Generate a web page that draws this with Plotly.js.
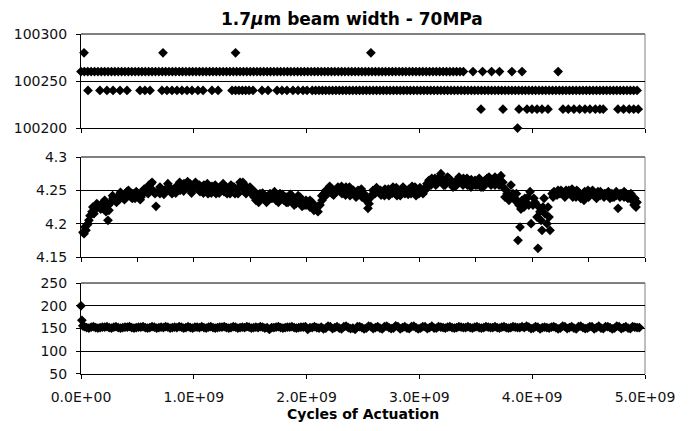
<!DOCTYPE html>
<html><head><meta charset="utf-8">
<script src="https://cdn.plot.ly/plotly-3.0.1.min.js"></script>
<style>html,body{margin:0;padding:0;background:#fff}</style>
</head><body><div id="chart" style="width:694px;height:431px"></div>
<script>
// x values are in units of 1e9 cycles
const CYCLE_UNIT = 1e9;

// Top panel: discrete readings at fixed levels
const levels = [100280, 100260, 100240, 100220, 100200];
const x100280 = [0.027, 0.727, 1.37, 2.57];
const x100260 = [0,0.03,0.06,0.09,0.12,0.15,0.18,0.21,0.24,0.27,0.3,0.33,0.36,0.39,0.42,0.45,0.48,0.51,0.54,0.57,0.6,0.63,0.66,0.69,0.72,0.75,0.78,0.81,0.84,0.87,0.9,0.93,0.96,0.99,1.02,1.05,1.08,1.11,1.14,1.17,1.2,1.23,1.26,1.29,1.32,1.35,1.38,1.41,1.44,1.47,1.5,1.53,1.56,1.59,1.62,1.65,1.68,1.71,1.74,1.77,1.8,1.83,1.86,1.89,1.92,1.95,1.98,2.01,2.04,2.07,2.1,2.13,2.16,2.19,2.22,2.25,2.28,2.31,2.34,2.37,2.4,2.43,2.46,2.49,2.52,2.55,2.58,2.61,2.64,2.67,2.7,2.73,2.76,2.79,2.82,2.85,2.88,2.91,2.94,2.97,3,3.03,3.06,3.09,3.12,3.15,3.18,3.21,3.24,3.27,3.3,3.33,3.36,3.39,3.475,3.56,3.64,3.71,3.82,3.91,4.23];
const x100240 = [0.062,0.168,0.23,0.284,0.346,0.408,0.523,0.567,0.612,0.718,0.762,0.807,0.851,0.895,0.94,0.984,1.037,1.082,1.161,1.215,1.339,1.37,1.40,1.43,1.46,1.49,1.525,1.605,1.658,1.738,1.782,1.826,1.879,1.924,1.968,2.004,2.05,2.08,2.11,2.14,2.17,2.2,2.23,2.26,2.29,2.32,2.35,2.38,2.41,2.44,2.47,2.5,2.53,2.56,2.59,2.62,2.65,2.68,2.71,2.74,2.77,2.8,2.83,2.86,2.89,2.92,2.95,2.98,3.01,3.04,3.07,3.1,3.13,3.16,3.19,3.22,3.25,3.28,3.31,3.34,3.37,3.4,3.43,3.46,3.49,3.52,3.55,3.58,3.61,3.64,3.67,3.7,3.73,3.76,3.79,3.82,3.85,3.88,3.91,3.94,3.97,4,4.03,4.06,4.09,4.12,4.15,4.18,4.21,4.24,4.27,4.3,4.33,4.36,4.39,4.42,4.45,4.48,4.51,4.54,4.57,4.6,4.63,4.66,4.69,4.72,4.75,4.78,4.81,4.84,4.87,4.9,4.93];
const x100220 = [3.546,3.741,3.883,3.954,3.998,4.043,4.087,4.14,4.273,4.32,4.37,4.42,4.468,4.512,4.56,4.6,4.63,4.76,4.81,4.86,4.9,4.94];
const x100200 = [3.87];
const levelX = [x100280, x100260, x100240, x100220, x100200];

// Middle panel: [cycles (1e9), value]
const midPoints = [[0.018,4.187],[0.027,4.185],[0.035,4.195],[0.044,4.19],[0.053,4.198],[0.062,4.2],[0.080,4.212],[0.098,4.218],[0.115,4.215],[0.133,4.222],[0.151,4.228],[0.168,4.225],[0.186,4.23],[0.204,4.228],[0.222,4.218],[0.239,4.205],[0.248,4.22],[0.266,4.232],[0.284,4.238],[0.301,4.235],[0.319,4.24],[0.337,4.236],[0.355,4.242],[0.372,4.24],[0.390,4.245],[0.408,4.248],[0.426,4.243],[0.443,4.24],[0.461,4.245],[0.479,4.238],[0.496,4.242],[0.514,4.245],[0.532,4.24],[0.550,4.245],[0.567,4.25],[0.585,4.252],[0.603,4.258],[0.621,4.26],[0.638,4.25],[0.656,4.245],[0.665,4.226],[0.683,4.248],[0.700,4.245],[0.718,4.25],[0.736,4.248],[0.754,4.252],[0.771,4.255],[0.789,4.25],[0.807,4.245],[0.824,4.25],[0.842,4.255],[0.860,4.258],[0.878,4.25],[0.895,4.255],[0.913,4.26],[0.931,4.258],[0.949,4.255],[0.966,4.26],[0.984,4.25],[1.002,4.255],[1.020,4.258],[1.037,4.252],[1.055,4.248],[1.073,4.255],[1.090,4.258],[1.108,4.25],[1.126,4.245],[1.144,4.252],[1.161,4.256],[1.179,4.25],[1.197,4.245],[1.215,4.25],[1.232,4.255],[1.250,4.252],[1.268,4.248],[1.285,4.255],[1.303,4.25],[1.321,4.245],[1.339,4.25],[1.356,4.255],[1.374,4.25],[1.392,4.245],[1.410,4.262],[1.427,4.255],[1.445,4.25],[1.463,4.245],[1.480,4.25],[1.498,4.255],[1.516,4.248],[1.534,4.24],[1.551,4.235],[1.569,4.24],[1.587,4.245],[1.605,4.238],[1.622,4.242],[1.640,4.235],[1.658,4.24],[1.676,4.245],[1.693,4.238],[1.711,4.242],[1.729,4.235],[1.746,4.24],[1.764,4.245],[1.782,4.238],[1.800,4.235],[1.817,4.24],[1.835,4.232],[1.853,4.238],[1.871,4.242],[1.888,4.235],[1.906,4.23],[1.924,4.236],[1.941,4.24],[1.959,4.232],[1.977,4.228],[1.995,4.235],[2.012,4.23],[2.030,4.225],[2.048,4.232],[2.066,4.228],[2.083,4.222],[2.101,4.218],[2.119,4.228],[2.137,4.235],[2.154,4.245],[2.172,4.25],[2.190,4.248],[2.207,4.252],[2.225,4.245],[2.243,4.25],[2.261,4.248],[2.278,4.255],[2.296,4.25],[2.314,4.245],[2.332,4.25],[2.349,4.255],[2.367,4.248],[2.385,4.242],[2.402,4.25],[2.420,4.245],[2.438,4.24],[2.456,4.25],[2.473,4.245],[2.491,4.24],[2.509,4.245],[2.527,4.235],[2.544,4.223],[2.553,4.23],[2.571,4.24],[2.589,4.25],[2.606,4.245],[2.624,4.248],[2.642,4.25],[2.660,4.243],[2.677,4.248],[2.695,4.252],[2.713,4.245],[2.730,4.242],[2.748,4.25],[2.766,4.255],[2.784,4.248],[2.801,4.242],[2.819,4.245],[2.837,4.25],[2.855,4.255],[2.872,4.245],[2.890,4.248],[2.908,4.252],[2.926,4.245],[2.943,4.25],[2.961,4.255],[2.979,4.248],[2.996,4.245],[3.014,4.25],[3.032,4.245],[3.050,4.25],[3.067,4.26],[3.085,4.265],[3.103,4.258],[3.121,4.262],[3.138,4.268],[3.156,4.26],[3.174,4.265],[3.191,4.275],[3.209,4.265],[3.227,4.258],[3.245,4.262],[3.262,4.268],[3.280,4.26],[3.298,4.255],[3.316,4.262],[3.333,4.265],[3.351,4.27],[3.369,4.262],[3.387,4.258],[3.404,4.265],[3.422,4.268],[3.440,4.26],[3.457,4.255],[3.475,4.26],[3.493,4.265],[3.511,4.258],[3.528,4.262],[3.546,4.255],[3.564,4.26],[3.582,4.265],[3.599,4.262],[3.617,4.27],[3.635,4.258],[3.652,4.265],[3.670,4.27],[3.688,4.262],[3.706,4.258],[3.723,4.272],[3.741,4.255],[3.759,4.24],[3.777,4.245],[3.794,4.235],[3.812,4.258],[3.830,4.245],[3.848,4.238],[3.865,4.232],[3.874,4.175],[3.883,4.228],[3.892,4.195],[3.910,4.235],[3.927,4.225],[3.945,4.232],[3.963,4.24],[3.981,4.248],[3.990,4.2],[4.007,4.228],[4.025,4.232],[4.043,4.21],[4.051,4.163],[4.069,4.218],[4.078,4.205],[4.087,4.19],[4.105,4.238],[4.113,4.215],[4.131,4.2],[4.149,4.21],[4.158,4.19],[4.176,4.245],[4.193,4.248],[4.211,4.245],[4.229,4.25],[4.246,4.245],[4.264,4.248],[4.282,4.242],[4.300,4.25],[4.317,4.245],[4.335,4.248],[4.353,4.252],[4.371,4.245],[4.388,4.24],[4.406,4.248],[4.424,4.245],[4.441,4.24],[4.459,4.235],[4.477,4.245],[4.495,4.25],[4.512,4.245],[4.530,4.248],[4.548,4.242],[4.566,4.245],[4.583,4.248],[4.601,4.242],[4.619,4.245],[4.637,4.24],[4.654,4.245],[4.672,4.242],[4.690,4.238],[4.707,4.245],[4.725,4.24],[4.743,4.242],[4.761,4.223],[4.778,4.24],[4.796,4.245],[4.814,4.24],[4.832,4.245],[4.849,4.238],[4.867,4.242],[4.885,4.235],[4.903,4.228],[4.920,4.225],[4.929,4.232]];
// Middle panel, additional readings that widen the band
const midPointsB = [[0.07,4.205],[0.105,4.225],[0.14,4.23],[0.175,4.222],[0.21,4.235],[0.245,4.228],[0.28,4.242],[0.315,4.232],[0.35,4.247],[0.385,4.236],[0.42,4.25],[0.455,4.238],[0.49,4.248],[0.525,4.236],[0.56,4.252],[0.595,4.245],[0.63,4.262],[0.70,4.255],[0.735,4.244],[0.77,4.26],[0.805,4.252],[0.84,4.246],[0.875,4.262],[0.91,4.249],[0.945,4.263],[0.98,4.246],[1.015,4.262],[1.05,4.258],[1.085,4.246],[1.12,4.26],[1.155,4.246],[1.19,4.258],[1.225,4.246],[1.26,4.26],[1.295,4.245],[1.33,4.258],[1.365,4.245],[1.40,4.255],[1.435,4.262],[1.47,4.255],[1.505,4.246],[1.54,4.248],[1.575,4.232],[1.61,4.246],[1.645,4.232],[1.68,4.238],[1.715,4.248],[1.75,4.232],[1.785,4.244],[1.82,4.232],[1.855,4.244],[1.89,4.228],[1.925,4.242],[1.96,4.226],[1.995,4.228],[2.03,4.235],[2.065,4.22],[2.10,4.226],[2.135,4.242],[2.17,4.242],[2.205,4.256],[2.24,4.243],[2.275,4.25],[2.31,4.256],[2.345,4.243],[2.38,4.255],[2.415,4.25],[2.45,4.242],[2.485,4.252],[2.52,4.24],[2.585,4.244],[2.62,4.254],[2.655,4.25],[2.69,4.242],[2.725,4.252],[2.76,4.246],[2.795,4.254],[2.83,4.242],[2.865,4.25],[2.90,4.244],[2.935,4.256],[2.97,4.242],[3.005,4.254],[3.04,4.252],[3.075,4.255],[3.11,4.268],[3.145,4.258],[3.18,4.27],[3.215,4.258],[3.25,4.27],[3.285,4.264],[3.32,4.256],[3.355,4.262],[3.39,4.268],[3.425,4.258],[3.46,4.266],[3.495,4.258],[3.53,4.268],[3.565,4.255],[3.60,4.268],[3.635,4.265],[3.67,4.258],[3.705,4.268],[3.74,4.262],[3.77,4.25],[3.80,4.242],[3.835,4.238],[3.86,4.245],[3.90,4.222],[3.935,4.238],[3.97,4.228],[4.015,4.238],[4.06,4.225],[4.095,4.225],[4.14,4.225],[4.185,4.24],[4.22,4.243],[4.255,4.25],[4.29,4.24],[4.325,4.25],[4.36,4.24],[4.395,4.25],[4.43,4.238],[4.465,4.248],[4.50,4.24],[4.535,4.25],[4.57,4.238],[4.605,4.248],[4.64,4.245],[4.675,4.248],[4.71,4.24],[4.745,4.248],[4.78,4.245],[4.815,4.248],[4.84,4.24],[4.875,4.245],[4.91,4.238]];

// Bottom panel: [cycles (1e9), value]
const lowPoints = [[0,200],[0.008,168],[0.016,156],[0.03,154],[0.07,151],[0.11,154],[0.15,151],[0.19,153],[0.23,154],[0.27,151],[0.31,154],[0.35,151],[0.39,153],[0.43,154],[0.47,151],[0.51,153],[0.55,154],[0.59,151],[0.63,154],[0.67,151],[0.71,153],[0.75,154],[0.79,151],[0.83,153],[0.87,154],[0.91,151],[0.95,154],[0.99,151],[1.03,153],[1.07,154],[1.11,151],[1.15,154],[1.19,151],[1.23,153],[1.27,154],[1.31,151],[1.35,154],[1.39,151],[1.43,153],[1.47,154],[1.51,151],[1.55,153],[1.59,154],[1.63,151],[1.67,148],[1.71,152],[1.75,154],[1.79,151],[1.83,153],[1.87,154],[1.91,151],[1.95,153],[1.99,154],[2.01,148],[2.03,152],[2.07,154],[2.11,151],[2.15,149],[2.19,155],[2.23,150],[2.27,154],[2.31,149],[2.35,155],[2.39,150],[2.43,148],[2.47,154],[2.51,149],[2.55,155],[2.59,150],[2.63,154],[2.67,149],[2.71,155],[2.75,150],[2.79,156],[2.83,149],[2.87,154],[2.91,150],[2.95,155],[2.99,149],[3.03,154],[3.07,150],[3.11,155],[3.15,151],[3.19,153],[3.23,151],[3.27,154],[3.31,151],[3.35,154],[3.39,152],[3.43,154],[3.47,151],[3.51,154],[3.55,151],[3.59,154],[3.63,152],[3.67,154],[3.71,151],[3.75,154],[3.79,151],[3.83,154],[3.87,152],[3.91,154],[3.95,155],[3.99,150],[4.03,154],[4.07,149],[4.11,153],[4.15,151],[4.19,154],[4.23,149],[4.27,155],[4.31,150],[4.35,154],[4.39,149],[4.43,155],[4.47,150],[4.51,154],[4.55,149],[4.59,155],[4.63,150],[4.67,154],[4.71,149],[4.75,155],[4.79,150],[4.83,154],[4.87,150],[4.91,153],[4.95,152]];
// Bottom panel, additional readings between the ones above
const lowPointsB = [[0.05,152],[0.09,153],[0.13,152],[0.17,152],[0.21,153],[0.25,152],[0.29,153],[0.33,152],[0.37,152],[0.41,153],[0.45,152],[0.49,152],[0.53,153],[0.57,152],[0.61,152],[0.65,153],[0.69,152],[0.73,152],[0.77,153],[0.81,152],[0.85,152],[0.89,153],[0.93,152],[0.97,152],[1.01,153],[1.05,152],[1.09,152],[1.13,153],[1.17,152],[1.21,152],[1.25,153],[1.29,152],[1.33,152],[1.37,153],[1.41,152],[1.45,152],[1.49,153],[1.53,152],[1.57,152],[1.61,153],[1.65,152],[1.69,152],[1.73,153],[1.77,152],[1.81,152],[1.85,153],[1.89,152],[1.93,152],[1.97,153],[2.05,152],[2.09,152],[2.13,153],[2.17,151],[2.21,154],[2.25,152],[2.29,151],[2.33,154],[2.37,152],[2.41,151],[2.45,154],[2.49,152],[2.53,151],[2.57,154],[2.61,152],[2.65,151],[2.69,154],[2.73,152],[2.77,151],[2.81,154],[2.85,152],[2.89,151],[2.93,154],[2.97,152],[3.01,151],[3.05,154],[3.09,152],[3.13,151],[3.17,154],[3.21,152],[3.25,153],[3.29,152],[3.33,152],[3.37,153],[3.41,152],[3.45,152],[3.49,153],[3.53,152],[3.57,152],[3.61,153],[3.65,152],[3.69,152],[3.73,153],[3.77,152],[3.81,152],[3.85,153],[3.89,152],[3.93,152],[3.97,153],[4.01,151],[4.05,153],[4.09,152],[4.13,152],[4.17,153],[4.21,152],[4.25,151],[4.29,154],[4.33,152],[4.37,151],[4.41,154],[4.45,152],[4.49,151],[4.53,154],[4.57,152],[4.61,151],[4.65,154],[4.69,152],[4.73,151],[4.77,154],[4.81,152],[4.85,151],[4.89,154],[4.93,152]];

// Axis ticks
const cycleTicks = [0, 1, 2, 3, 4, 5];
const cycleTickText = ["0.0E+00", "1.0E+09", "2.0E+09", "3.0E+09", "4.0E+09", "5.0E+09"];
const cycleHalfTicks = [0, 0.5, 1, 1.5, 2, 2.5, 3, 3.5, 4, 4.5, 5];
const topTicks = [100200, 100250, 100300];
const midTicks = [4.15, 4.2, 4.25, 4.3];
const midTickText = ["4.15", "4.2", "4.25", "4.3"];
const lowTicks = [50, 100, 150, 200, 250];

const titleText = "1.7<i>μ</i>m beam width - 70MPa";
const xTitleText = "Cycles of Actuation";

const marker = {symbol: 'diamond', size: 7.5, color: '#000', line: {width: 0}};
const traces = [];
const addTrace = (xa, ya, xs, ys) => traces.push({type: 'scatter', mode: 'markers', xaxis: xa, yaxis: ya,
  x: xs.map(v => v * CYCLE_UNIT), y: ys, marker: marker, cliponaxis: false, showlegend: false, hoverinfo: 'skip'});
levels.forEach((lv, i) => addTrace('x', 'y', levelX[i], levelX[i].map(() => lv)));
addTrace('x2', 'y2', midPoints.map(p => p[0]), midPoints.map(p => p[1]));
addTrace('x2', 'y2', midPointsB.map(p => p[0]), midPointsB.map(p => p[1]));
addTrace('x3', 'y3', lowPoints.map(p => p[0]), lowPoints.map(p => p[1]));
addTrace('x3', 'y3', lowPointsB.map(p => p[0]), lowPointsB.map(p => p[1]));

const tickFont = {family: 'DejaVu Sans', size: 14, color: '#111'};
const xBase = {range: [0, 5 * CYCLE_UNIT], showgrid: false, zeroline: false, showline: true,
  linecolor: '#000', linewidth: 1, ticks: 'outside', ticklen: 4, tickcolor: '#000', tickwidth: 1,
  tickfont: tickFont};
const yBase = {showgrid: true, gridcolor: '#000', gridwidth: 1, zeroline: false, showline: true,
  linecolor: '#000', linewidth: 1, ticks: 'outside', ticklen: 4, tickcolor: '#000', tickwidth: 1,
  tickfont: tickFont, tickmode: 'array', ticklabelstandoff: 6};

const frame = (xr, yr) => [
  {type: 'line', xref: xr + ' domain', yref: yr + ' domain', x0: 0, x1: 1, y0: 1, y1: 1, line: {color: '#000', width: 1}, layer: 'below'},
  {type: 'line', xref: xr + ' domain', yref: yr + ' domain', x0: 1, x1: 1, y0: 0, y1: 1, line: {color: '#808080', width: 1}, layer: 'below'}
];

const layout = {
  width: 694, height: 431, autosize: false,
  paper_bgcolor: '#fff', plot_bgcolor: '#fff',
  margin: {l: 81, r: 49, t: 34, b: 57},
  title: {text: titleText, font: {family: 'DejaVu Sans', size: 17, color: '#000', weight: 'bold'},
    xref: 'container', yref: 'container', x: 0.507, xanchor: 'center', y: 0.955, yanchor: 'middle'},
  xaxis: Object.assign({}, xBase, {anchor: 'y', tickmode: 'array', tickvals: cycleTicks.map(v => v * CYCLE_UNIT), showticklabels: false}),
  yaxis: Object.assign({}, yBase, {domain: [0.7235, 1], anchor: 'x', range: [100200, 100300], tickvals: topTicks, ticktext: topTicks.map(String)}),
  xaxis2: Object.assign({}, xBase, {anchor: 'y2', tickmode: 'array', tickvals: cycleHalfTicks.map(v => v * CYCLE_UNIT), showticklabels: false}),
  yaxis2: Object.assign({}, yBase, {domain: [0.3441, 0.6382], anchor: 'x2', range: [4.15, 4.3], tickvals: midTicks, ticktext: midTickText}),
  xaxis3: Object.assign({}, xBase, {anchor: 'y3', tickmode: 'array', tickvals: cycleTicks.map(v => v * CYCLE_UNIT), ticktext: cycleTickText,
    ticklabelstandoff: 6}),
  yaxis3: Object.assign({}, yBase, {domain: [0, 0.2676], anchor: 'x3', range: [50, 250], tickvals: lowTicks, ticktext: lowTicks.map(String)}),
  annotations: [{text: '<b>' + xTitleText + '</b>', xref: 'x3 domain', yref: 'paper', x: 0.5, y: -0.118, xanchor: 'center', yanchor: 'middle',
    showarrow: false, font: {family: 'DejaVu Sans', size: 14, color: '#000'}}],
  shapes: [].concat(frame('x', 'y'), frame('x2', 'y2'), frame('x3', 'y3'))
};

Plotly.newPlot('chart', traces, layout, {staticPlot: true, displayModeBar: false});
</script>
</body></html>
